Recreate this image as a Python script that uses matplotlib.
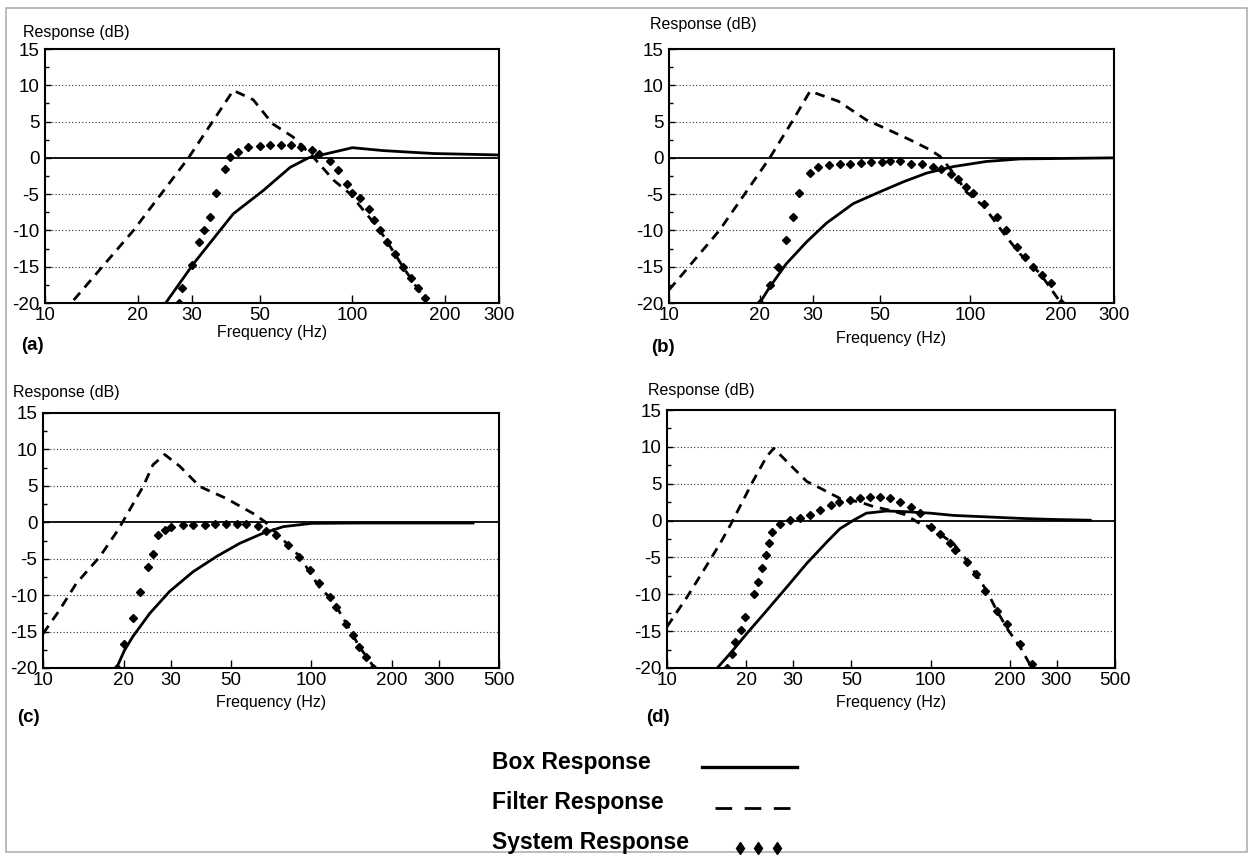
import matplotlib
matplotlib.use("Agg")
import matplotlib.pyplot as plt
from matplotlib.lines import Line2D
from matplotlib.patches import Rectangle

plt.rcParams["font.family"] = ["Liberation Sans Narrow", "Liberation Sans",
                               "DejaVu Sans"]

W, H = 1250, 856

# --- values (frequency Hz, response dB) ---
FILT_A_F = [12.4, 19.4, 29.3, 41, 47.6, 55, 64, 75, 87, 98, 123, 146, 172]
FILT_A_DB = [-19.6, -10, 0, 9.3, 8, 4.7, 2.9, 0, -3.1, -4.9, -10, -15, -19.5]
BOX_A_F = [24.7, 30.4, 41, 51.3, 62.8, 72, 87, 100, 126, 183, 300]
BOX_A_DB = [-20, -14.6, -7.7, -4.5, -1.3, 0, 0.8, 1.4, 1.0, 0.6, 0.4]
SYS_A_F = [27.2, 28, 30, 31.8, 33, 34.4, 36, 38.5, 40, 42.5, 45.8, 50, 54,
           58.5, 63, 68, 73.7, 78, 84.6, 90, 96, 100, 106, 113, 118, 123,
           130, 138, 146, 155, 163, 172]
SYS_A_DB = [-20, -18, -14.8, -11.6, -10, -8.1, -4.9, -1.6, 0.1, 0.8, 1.5, 1.7,
            1.8, 1.8, 1.8, 1.5, 1.1, 0.6, -0.5, -1.7, -3.6, -4.9, -5.6, -7.1,
            -8.6, -10, -11.6, -13.2, -15, -16.5, -17.9, -19.3]

FILT_B_F = [10, 11.1, 14.7, 21.6, 25.8, 29.4, 31.7, 36.5, 45.3, 52, 63, 73.6,
            79.4, 90, 97, 111, 129, 146, 171, 200]
FILT_B_DB = [-18.2, -16, -10, 0, 5.2, 9.2, 8.7, 7.8, 5.2, 4.1, 2.5, 1.1, 0.2,
             -2.6, -4.7, -6.7, -10.4, -13.2, -16, -20]
BOX_B_F = [20, 21.6, 24.5, 28.6, 33.3, 40.9, 50, 60, 71.6, 88, 113, 146, 300]
BOX_B_DB = [-20, -17.8, -14.6, -11.6, -9.0, -6.3, -4.7, -3.3, -2.1, -1.2, -0.5,
            -0.15, 0]
SYS_B_F = [20, 21.6, 23, 24.5, 25.8, 27, 29.4, 31.3, 34, 37, 40, 43.5, 47, 51,
           54, 58.4, 63.5, 69, 75, 80, 86, 91, 97, 102, 111, 123, 131, 143,
           152, 162, 173, 185, 200]
SYS_B_DB = [-20, -17.5, -15, -11.3, -8.1, -4.9, -2.1, -1.2, -1.0, -0.8, -0.8,
            -0.7, -0.6, -0.6, -0.5, -0.5, -0.8, -0.9, -1.2, -1.5, -2.2, -2.9,
            -4.0, -4.9, -6.3, -8.1, -10, -12.3, -13.7, -15, -16.2, -17.3, -20]

FILT_C_F = [10, 11.5, 13.3, 16.3, 19, 23.6, 25.7, 28.4, 32.3, 38.4, 48, 60.7,
            67, 74, 83, 90.5, 107, 120, 135, 151, 172]
FILT_C_DB = [-15.3, -12.1, -8.4, -4.7, -1.1, 4.9, 7.9, 9.3, 7.7, 4.9, 3.3, 1.2,
             0.1, -1.5, -3.3, -4.7, -8.9, -10.7, -13.9, -17.1, -20]
BOX_C_F = [18.8, 20.1, 21.6, 25, 29.6, 36.2, 44.3, 54, 66, 78.6, 100, 150, 400]
BOX_C_DB = [-20, -17.6, -15.7, -12.5, -9.5, -6.8, -4.7, -2.9, -1.5, -0.6, -0.15,
            -0.1, -0.1]
SYS_C_F = [18.8, 20.1, 21.6, 22.9, 24.6, 25.7, 26.8, 28.4, 30, 33.3, 36.2, 40,
           43.7, 48.2, 52.6, 57.3, 63.4, 68, 74, 82, 90, 99, 107, 117, 123,
           135, 143, 151, 160, 170]
SYS_C_DB = [-20, -16.7, -13.2, -9.5, -6.1, -4.3, -1.7, -1.0, -0.6, -0.4, -0.4,
            -0.4, -0.25, -0.25, -0.25, -0.25, -0.5, -1.2, -1.7, -3.1, -4.7,
            -6.6, -8.4, -10.2, -11.6, -13.9, -15.5, -17.1, -18.5, -20]

FILT_D_F = [10, 11.9, 13.8, 15.9, 17.4, 21.3, 23.9, 25.4, 28.5, 33.9, 38.1,
            45.3, 54, 60.7, 70, 80, 91, 100, 108, 122, 137, 163, 178, 197,
            218, 242]
FILT_D_DB = [-14.4, -10.4, -6.7, -3.1, -0.6, 5.5, 8.7, 9.8, 8.0, 5.3, 4.4, 3.0,
             2.5, 1.9, 1.4, 0.8, -0.4, -0.9, -1.8, -3.1, -5.4, -9.5, -12.2,
             -14.9, -17.1, -20]
BOX_D_F = [15.5, 17.4, 20.1, 23.9, 28.5, 33.9, 40.4, 45.3, 51, 57, 68, 81, 100,
           122, 163, 218, 291, 403]
BOX_D_DB = [-20, -18, -15.3, -12.2, -9, -5.8, -2.9, -1.1, 0.05, 1.0, 1.3, 1.2,
            1.0, 0.7, 0.5, 0.3, 0.15, 0.05]
SYS_D_F = [16.9, 17.6, 18.1, 19, 19.8, 21.3, 22.1, 23, 23.8, 24.4, 25, 26.9,
           29.2, 32, 35, 38, 42, 45, 49.5, 54, 59, 64.5, 70, 76.5, 84, 91, 100,
           108, 118, 124, 137, 148, 160, 178, 194, 218, 242]
SYS_D_DB = [-20, -18.1, -16.5, -14.9, -13.1, -9.9, -8.3, -6.5, -4.7, -3.1,
            -1.5, -0.4, 0.1, 0.4, 0.7, 1.4, 2.1, 2.5, 2.8, 3.0, 3.2, 3.2, 3.0,
            2.5, 1.9, 1.0, -0.9, -1.8, -3.1, -4.0, -5.6, -7.2, -9.5, -12.2,
            -14.0, -16.7, -19.4]

XT_300 = [10, 20, 30, 50, 100, 200, 300]
XT_500 = [10, 20, 30, 50, 100, 200, 300, 500]
YT = [-20, -15, -10, -5, 0, 5, 10, 15]

# panel: (box px l, t, r, b), xmax, ticks, letter, data, text anchors
PANELS = [
    ((45, 49, 499, 303), 300, XT_300, "(a)",
     (BOX_A_F, BOX_A_DB, FILT_A_F, FILT_A_DB, SYS_A_F, SYS_A_DB),
     (23, 32), (272, 333), (32, 345)),
    ((669, 49, 1114, 303), 300, XT_300, "(b)",
     (BOX_B_F, BOX_B_DB, FILT_B_F, FILT_B_DB, SYS_B_F, SYS_B_DB),
     (650, 25), (891, 338), (663, 348)),
    ((43, 413, 499, 668), 500, XT_500, "(c)",
     (BOX_C_F, BOX_C_DB, FILT_C_F, FILT_C_DB, SYS_C_F, SYS_C_DB),
     (13, 393), (271, 703), (28, 717)),
    ((667, 410, 1115, 668), 500, XT_500, "(d)",
     (BOX_D_F, BOX_D_DB, FILT_D_F, FILT_D_DB, SYS_D_F, SYS_D_DB),
     (648, 390), (891, 703), (658, 718)),
]

fig = plt.figure(figsize=(W / 100, H / 100), dpi=100)
fig.patches.append(Rectangle((6 / W, 1 - 852 / H), 1241 / W, 844 / H,
                             transform=fig.transFigure, fill=False,
                             edgecolor="#b0b0b0", lw=1.2))


def fx(x):
    return x / W


def fy(y):
    return 1 - y / H


for (l, t, r, b), xmax, xt, letter, d, resp, freq, lab in PANELS:
    ax = fig.add_axes([fx(l), fy(b), (r - l) / W, (b - t) / H])
    bf, bd, ff, fd, sf, sd = d
    for y in (-15, -10, -5, 5, 10):
        ax.axhline(y, color="#333333", lw=0.8, ls=(0, (1, 2)), zorder=1)
    ax.axhline(0, color="black", lw=1.3, zorder=2)
    ax.plot(bf, bd, color="black", lw=2.0, zorder=3)
    ax.plot(ff, fd, color="black", lw=2.0, ls=(0, (3.5, 2.5)), zorder=3)
    ax.plot(sf, sd, ls="none", marker="D", ms=4.2, color="black", zorder=4)
    ax.set_xscale("log")
    ax.set_xlim(10, xmax)
    ax.set_ylim(-20, 15)
    ax.set_xticks(xt)
    ax.set_xticklabels([str(v) for v in xt])
    ax.xaxis.set_minor_locator(matplotlib.ticker.NullLocator())
    ax.set_yticks(YT)
    ax.set_yticklabels([str(v) for v in YT])
    ax.set_yticks([v + 2.5 for v in YT[:-1]], minor=True)
    ax.tick_params(axis="x", direction="in", length=6, width=1, pad=3,
                   labelsize=13.5)
    ax.tick_params(axis="y", which="major", direction="in", length=4,
                   width=1, pad=4, labelsize=13.5)
    ax.tick_params(axis="y", which="minor", direction="in", length=3, width=1)
    for s in ax.spines.values():
        s.set_linewidth(1.5)
    fig.text(fx(resp[0]), fy(resp[1]), "Response (dB)", fontsize=11.5,
             ha="left", va="center")
    fig.text(fx(freq[0]), fy(freq[1]), "Frequency (Hz)", fontsize=11.5,
             ha="center", va="center")
    fig.text(fx(lab[0]), fy(lab[1]), letter, fontsize=13.5,
             fontweight="bold", ha="center", va="center")

# legend drawn by hand below the panels
LEG_LABELS = ["Box Response", "Filter Response", "System Response"]
leg_y = [763, 802, 842]
for txt, y in zip(LEG_LABELS, leg_y):
    fig.text(fx(492), fy(y), txt, fontsize=16.5, fontweight="bold",
             family=["Liberation Sans", "DejaVu Sans"],
             ha="left", va="center")
fig.add_artist(Line2D([fx(702), fx(797)], [fy(767), fy(767)], color="black",
                      lw=2.4))
fig.add_artist(Line2D([fx(715), fx(798)], [fy(808), fy(808)], color="black",
                      lw=2.0, ls=(0, (6, 4.5))))
fig.add_artist(Line2D([fx(740), fx(758), fx(777)], [fy(848)] * 3, ls="none",
                      marker="d", ms=6, color="black"))

fig.savefig("out.png", dpi=100)
